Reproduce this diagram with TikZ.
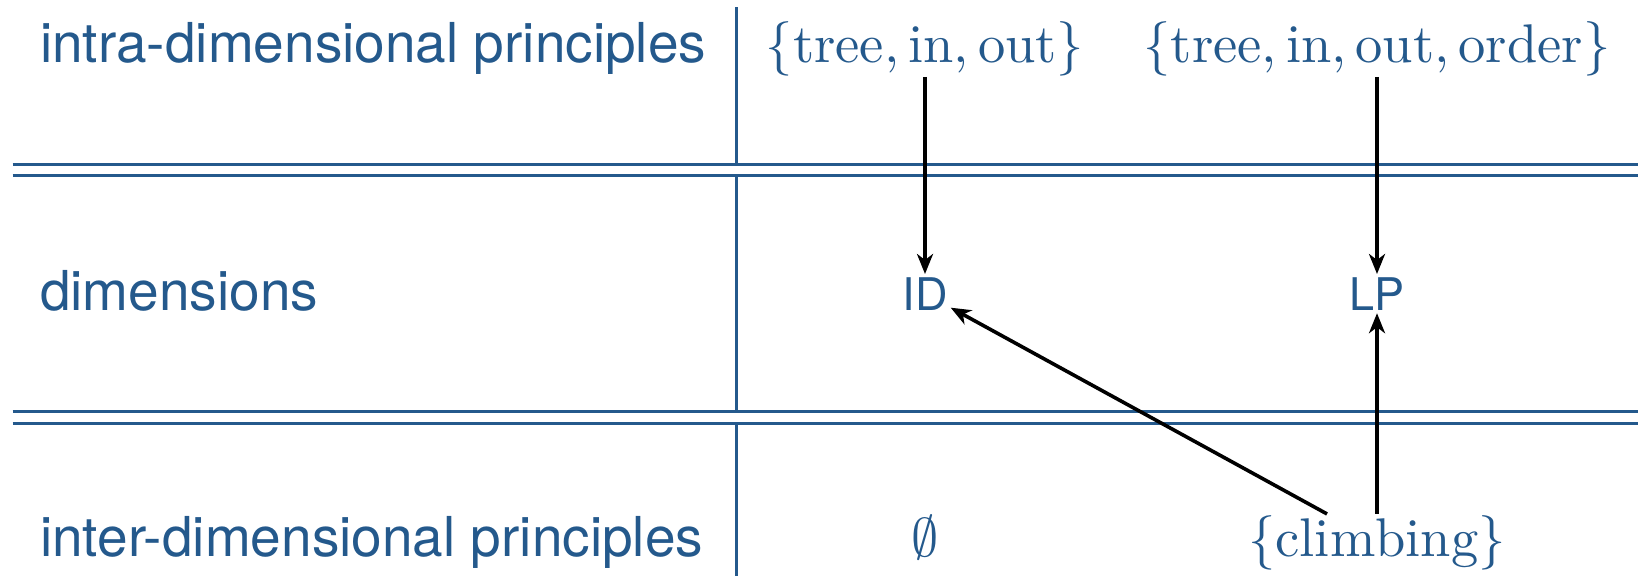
\documentclass[tikz,border=0pt]{standalone}
\usepackage{graphicx}
\usepackage{fontspec}
\newfontfamily\labfont{TeX Gyre Heros}
\usetikzlibrary{arrows.meta,calc}
\definecolor{sblue}{RGB}{36,89,140}
\newcommand{\xbigmath}[1]{\scalebox{5.45}{$#1$}}
\begin{document}
\begin{tikzpicture}[x=1pt,y=-1pt,
  sepline/.style={draw=sblue,line width=3pt},
  lab/.style={anchor=base west,inner sep=0pt,text=sblue,font=\labfont\fontsize{55}{66}\selectfont},
  mth/.style={anchor=base,inner sep=1pt,text=sblue},
  dimn/.style={anchor=base,inner sep=3pt,text=sblue,font=\labfont\fontsize{45}{54}\selectfont},
  arr/.style={-{Stealth[length=20pt,width=16pt,inset=6pt]},line width=3.6pt,draw=black}]
\useasboundingbox (0,0) rectangle (1638,576);
% separators
\draw[sepline] (12.5,164) -- (1638,164);
\draw[sepline] (12.5,175.5) -- (1638,175.5);
\draw[sepline] (12.5,411.5) -- (1638,411.5);
\draw[sepline] (12.5,423) -- (1638,423);
\draw[sepline] (736.5,7) -- (736.5,164);
\draw[sepline] (736.5,175.5) -- (736.5,411.5);
\draw[sepline] (736.5,423) -- (736.5,576);
% row labels
\node[lab] (intra) at (40,62) {intra-dimensional principles};
\node[lab] (dims) at (40,310) {dimensions};
\node[lab] (inter) at (40,556) {inter-dimensional principles};
% content
\node[mth] (tio) at (925,62) {\xbigmath{\{\mathrm{tree},\mathrm{in},\mathrm{out}\}}};
\node[mth] (tioo) at (1377,62) {\xbigmath{\{\mathrm{tree},\mathrm{in},\mathrm{out},\mathrm{order}\}}};
\node[dimn] (ID) at (925,310) {ID};
\node[dimn] (LP) at (1377,310) {LP};
\node[mth] (empty) at (925,556) {\xbigmath{\emptyset}};
\node[mth] (climb) at (1377,556) {\xbigmath{\{\mathrm{climbing}\}}};
% arrows
\draw[arr] (tio.south) -- (ID.north);
\draw[arr] (tioo.south) -- (LP.north);
\draw[arr] (climb.north) -- (LP.south);
\coordinate (cd) at ($(climb.north)+(-50,0)$);
\draw[arr] (cd) -- (ID);
\end{tikzpicture}
\end{document}
